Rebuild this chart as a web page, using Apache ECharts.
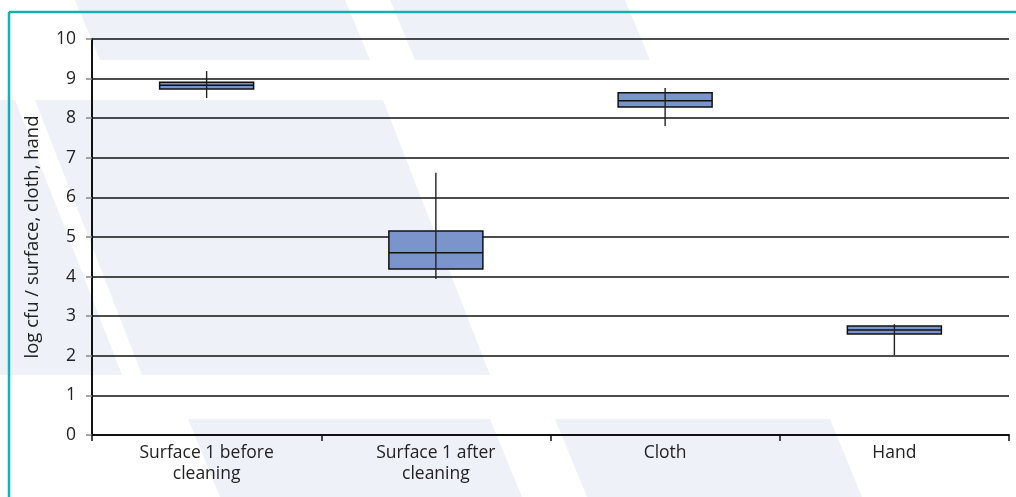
<!DOCTYPE html>
<html>
<head>
<meta charset="utf-8">
<script src="https://cdn.jsdelivr.net/npm/echarts@6/dist/echarts.min.js"></script>
<style>
  html, body { margin: 0; padding: 0; background: #fff; }
  #main { width: 1016px; height: 497px; }
</style>
</head>
<body>
<div id="main"></div>
<script>
// values (log cfu)
const categories = ['Surface 1 before\ncleaning', 'Surface 1 after\ncleaning', 'Cloth', 'Hand'];
const minVals = [8.51, 3.94, 7.80, 2.02];
const q1Vals = [8.74, 4.19, 8.28, 2.55];
const medianVals = [8.83, 4.60, 8.44, 2.65];
const q3Vals = [8.91, 5.15, 8.64, 2.75];
const maxVals = [9.19, 6.62, 8.76, 2.80];
const yTicks = [0, 1, 2, 3, 4, 5, 6, 7, 8, 9, 10];

const boxData = categories.map((c, i) => [i, minVals[i], q1Vals[i], medianVals[i], q3Vals[i], maxVals[i]]);

// background watermark bands
const shade = '#eff1f9';
const bands = [
  [[75, 0], [345, 0], [370, 60], [100, 60]],
  [[390, 0], [625, 0], [650, 60], [415, 60]],
  [[0, 100], [15, 100], [122, 375], [0, 375]],
  [[35, 100], [383, 100], [490, 375], [142, 375]],
  [[188, 419], [490, 419], [522, 497], [220, 497]],
  [[555, 419], [830, 419], [862, 497], [587, 497]]
];

const chart = echarts.init(document.getElementById('main'));

function renderBox(params, api) {
  const i = api.value(0);
  const x = api.coord([i, 0])[0];
  const w = api.size([1, 0])[0] * 0.41;
  const pMin = api.coord([i, api.value(1)]);
  const pQ1 = api.coord([i, api.value(2)]);
  const pMed = api.coord([i, api.value(3)]);
  const pQ3 = api.coord([i, api.value(4)]);
  const pMax = api.coord([i, api.value(5)]);
  return {
    type: 'group',
    children: [
      {
        type: 'rect',
        shape: { x: x - w / 2, y: pQ3[1], width: w, height: pQ1[1] - pQ3[1] },
        style: { fill: '#7b95cc', stroke: '#111', lineWidth: 1.5 }
      },
      {
        type: 'line',
        shape: { x1: x - w / 2, y1: pMed[1], x2: x + w / 2, y2: pMed[1] },
        style: { stroke: '#111', lineWidth: 1.5 }
      },
      {
        type: 'line',
        shape: { x1: x, y1: pMax[1], x2: x, y2: pMin[1] },
        style: { stroke: '#222', lineWidth: 1.4 }
      }
    ]
  };
}

chart.setOption({
  animation: false,
  graphic: bands.map(pts => ({
    type: 'polygon', z: -10, silent: true,
    shape: { points: pts },
    style: { fill: shade }
  })).concat([
    { type: 'line', z: -5, shape: { x1: 9, y1: 12, x2: 1016, y2: 12 }, style: { stroke: '#17b0ae', lineWidth: 2.5 } },
    { type: 'line', z: -5, shape: { x1: 9, y1: 12, x2: 9, y2: 497 }, style: { stroke: '#17b0ae', lineWidth: 2.5 } }
  ]),
  grid: { left: 92, right: 7, top: 39, bottom: 62 },
  xAxis: {
    type: 'category',
    data: categories,
    boundaryGap: true,
    axisLine: { lineStyle: { color: '#111', width: 2 } },
    axisTick: { show: true, length: 6, lineStyle: { color: '#111', width: 1.5 } },
    axisLabel: { color: '#222', fontSize: 17.5, fontFamily: 'Open Sans', lineHeight: 21, margin: 8 }
  },
  yAxis: {
    type: 'value',
    min: yTicks[0],
    max: yTicks[yTicks.length - 1],
    interval: 1,
    name: 'log cfu / surface, cloth, hand',
    nameLocation: 'middle',
    nameGap: 50,
    nameTextStyle: { color: '#222', fontSize: 18.5, fontFamily: 'Open Sans' },
    axisLine: { show: true, lineStyle: { color: '#111', width: 2 } },
    axisTick: { show: true, length: 6, lineStyle: { color: '#888', width: 1.5 } },
    axisLabel: { color: '#222', fontSize: 17.5, fontFamily: 'Open Sans', margin: 16 },
    splitLine: { lineStyle: { color: '#111', width: 1.5 } }
  },
  series: [{
    type: 'custom',
    renderItem: renderBox,
    encode: { x: 0, y: [1, 2, 3, 4, 5] },
    data: boxData,
    z: 5
  }]
});
</script>
</body>
</html>
